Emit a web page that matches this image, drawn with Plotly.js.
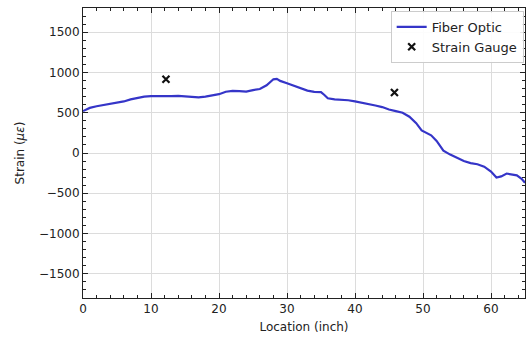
<!DOCTYPE html>
<html>
<head>
<meta charset="utf-8">
<script src="https://cdn.plot.ly/plotly-3.0.1.min.js"></script>
<style>
  html, body { margin: 0; padding: 0; background: #fff; }
  #chart { width: 526px; height: 341px; }
</style>
</head>
<body>
<div id="chart"></div>
<script>
// Fiber optic strain profile along the specimen (location in inches, strain in microstrain)
const fiberLocation = [0, 1, 2, 3, 4, 5, 6, 7, 8, 9, 10, 11, 12, 13, 14, 15, 16, 17, 18, 19,
  20, 21, 22, 23, 24, 25, 26, 27, 28, 28.5, 29, 30, 31, 32, 33, 34, 35, 35.5, 36, 37, 38, 39,
  40, 41, 42, 43, 44, 45, 46, 47, 48, 49, 49.8, 50.5, 51.2, 52, 53, 54, 55, 56, 57, 58, 59,
  60, 60.8, 61.5, 62.3, 63, 63.8, 64.5, 65];
const fiberStrain = [520, 560, 580, 595, 610, 625, 640, 665, 685, 700, 705, 703, 705, 707, 710, 705, 695, 690, 700, 715,
  730, 760, 770, 768, 762, 780, 795, 840, 915, 920, 895, 865, 835, 800, 775, 758, 755, 720, 680, 665, 662, 655,
  640, 625, 610, 590, 570, 540, 520, 500, 450, 370, 280, 255, 220, 150, 30, -20, -60, -100, -125, -140, -170,
  -230, -305, -290, -255, -270, -278, -320, -370];

// Discrete strain gauge readings
const gaugeLocation = [12.2, 45.8];
const gaugeStrain = [915, 750];

const traces = [
  {
    x: fiberLocation, y: fiberStrain,
    type: 'scatter', mode: 'lines', name: 'Fiber Optic',
    line: { color: '#3535c8', width: 2.2 }
  },
  {
    x: gaugeLocation, y: gaugeStrain,
    type: 'scatter', mode: 'markers', name: 'Strain Gauge',
    marker: { symbol: 'x-thin', color: '#111', size: 7, line: { width: 2.2, color: '#111' } }
  }
];

const axisCommon = {
  showline: true, linecolor: '#222', linewidth: 1, mirror: 'allticks',
  ticks: 'inside', ticklen: 5, tickwidth: 1, tickcolor: '#222',
  showgrid: true, gridcolor: '#dcdcdc', gridwidth: 1,
  zeroline: false,
  tickfont: { family: 'DejaVu Sans', size: 12, color: '#222' }
};

const layout = {
  width: 526, height: 341,
  margin: { l: 83, r: 1, t: 8, b: 43 },
  paper_bgcolor: '#fff', plot_bgcolor: '#fff',
  font: { family: 'DejaVu Sans', size: 12, color: '#222' },
  xaxis: Object.assign({}, axisCommon, {
    range: [0, 65], dtick: 10, tick0: 0,
    minor: { dtick: 2, ticks: 'inside', ticklen: 3, tickcolor: '#222', showgrid: false },
    title: { text: 'Location (inch)', font: { family: 'DejaVu Sans', size: 12, color: '#222' }, standoff: 7 }
  }),
  yaxis: Object.assign({}, axisCommon, {
    range: [-1800, 1800], dtick: 500, tick0: 0,
    minor: { dtick: 100, ticks: 'inside', ticklen: 3, tickcolor: '#222', showgrid: false },
    title: { text: 'Strain (<i>με</i>)', font: { family: 'DejaVu Sans', size: 12, color: '#222' }, standoff: 11 }
  }),
  legend: {
    x: 0.997, xanchor: 'right', y: 0.99, yanchor: 'top',
    bgcolor: 'rgba(255,255,255,0.9)', bordercolor: '#cccccc', borderwidth: 1,
    font: { family: 'DejaVu Sans', size: 13, color: '#222' },
    itemwidth: 30, tracegroupgap: 0
  },
  showlegend: true
};

Plotly.newPlot('chart', traces, layout, { staticPlot: true, displayModeBar: false });
</script>
</body>
</html>
